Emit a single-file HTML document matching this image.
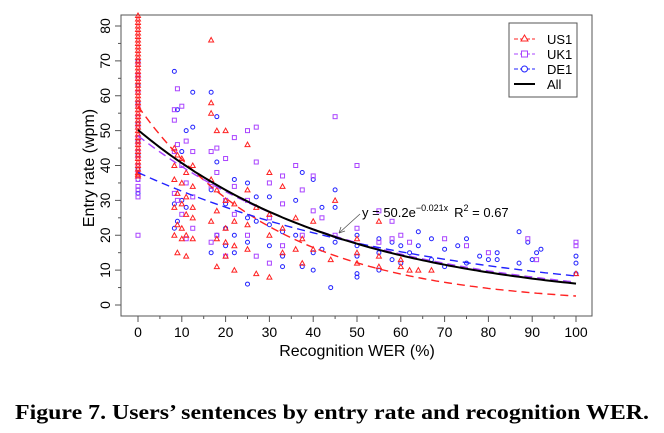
<!DOCTYPE html>
<html><head><meta charset="utf-8"><style>
html,body{margin:0;padding:0;background:#fff;width:664px;height:433px;overflow:hidden}
svg{display:block}
</style></head><body>
<svg id="chart" width="664" height="433" xmlns="http://www.w3.org/2000/svg" font-family="Liberation Sans, Arial, sans-serif">
<rect x="121" y="15" width="471" height="301" fill="none" stroke="#555" stroke-width="1"/>
<g id="axes"></g>
<g id="marks"></g>
<g id="fits"></g>
<text transform="translate(94,168) rotate(-90)" text-anchor="middle" font-size="16">Entry rate (wpm)</text>
<text x="357" y="356" text-anchor="middle" font-size="16">Recognition WER (%)</text>
<g>
<line x1="360" y1="214" x2="339" y2="233" stroke="#555" stroke-width="0.8"/>
<path d="M339,233 l2,-6 M339,233 l6,-2" stroke="#555" stroke-width="0.8" fill="none"/>
<text x="362" y="217" font-size="13">y = 50.2e<tspan dy="-6" font-size="9">−0.021x</tspan><tspan dy="6" dx="6">R</tspan><tspan dy="-6" font-size="9">2</tspan><tspan dy="6"> = 0.67</tspan></text>
</g>
<g>
<rect x="509" y="23" width="68" height="74" fill="#fff" stroke="#555" stroke-width="1"/>
<g><line x1="514" y1="39" x2="535" y2="39" stroke="#f22" stroke-dasharray="4,2"/><path d="M524.5,35 l3.5,6 h-7z" fill="#fff" stroke="#f22"/><text x="547" y="44" font-size="13">US1</text></g>
<g><line x1="514" y1="54" x2="535" y2="54" stroke="#a4f" stroke-dasharray="4,2"/><rect x="521.5" y="51" width="6" height="6" fill="#fff" stroke="#a4f"/><text x="547" y="59" font-size="13">UK1</text></g>
<g><line x1="514" y1="69" x2="535" y2="69" stroke="#22f" stroke-dasharray="4,2"/><circle cx="524.5" cy="69" r="3" fill="#fff" stroke="#22f"/><text x="547" y="74" font-size="13">DE1</text></g>
<g><line x1="514" y1="84" x2="535" y2="84" stroke="#000" stroke-width="2"/><text x="547" y="89" font-size="13">All</text></g>
</g>
<text x="332" y="419" text-anchor="middle" font-family="Liberation Serif, Times New Roman, serif" font-weight="bold" font-size="21" textLength="634" lengthAdjust="spacingAndGlyphs">Figure 7. Users’ sentences by entry rate and recognition WER.</text>
</svg>
<script>
const xTicks=[0,10,20,30,40,50,60,70,80,90,100];
const yTicks=[0,10,20,30,40,50,60,70,80];
const us1X=[0,0,0,0,0,0,0,0,0,0,0,0,0,0,0,0,0,0,0,0,0,0,0,0,0,0,0,0,0,0,0,0,0,0,0,0,0,0,0,0,0,0,0,0,0,0,0,0,8.3,8.3,8.3,8.3,8.3,9,9,9,9,10,10,10,10,10,11,11,11,11,11,12.5,12.5,12.5,12.5,12.5,16.7,16.7,16.7,16.7,16.7,18,18,18,18,18,20,20,20,20,20,22,22,22,22,25,25,25,25,27,27,30,30,30,30,33,33,33,36,36,37.5,37.5,40,40,44,45,50,50,50,55,55,55,60,60,62,64,67,100];
const us1Y=[83,82,81,80,79,78,77,76,75,74,73,72,71,70,69,68,67,66,65,64,63,62,61,60,59,58,57,56,55,54,53,52,51,50,49,48,47,46,45,44,43,42,41,40,39,38,37.5,37,45,40,36,28,20,43,32,23,15,42,35,29,22,19,38,31,26,20,14,40,34,28,25,19,76,58,55,36,24,50,33,27,19,11,50,30,22,18,14,29,24,17,10,46,33,23,16,9,28,38,26,20,8,34,22,15,25,16,19,12,24,16,13,30,19,15,12,11,24,14,13,11,10,10,10,9];
const uk1X=[0,0,0,0,0,0,0,0,0,0,0,0,0,0,0,0,0,0,8.3,8.3,8.3,8.3,9,9,9,10,10,10,11,11,11,12.5,12.5,12.5,16.7,16.7,16.7,18,18,18,20,20,20,22,22,22,25,25,25,27,27,27,30,30,30,33,33,33,36,37.5,37.5,40,40,42,45,45,50,50,55,55,58,58,60,62,70,75,80,89,91,100,100];
const uk1Y=[69,65,61,57,54,51,48,46,44,42,40,38,36,34,33,31,20,66,56,53,44,32,62,46,30,57,40,26,47,35,19,44,31,22,44,34,18,45,38,20,42,30,14,48,34,26,50,30,20,51,41,14,35,25,12,37,29,17,40,33,20,37,27,25,54,20,40,22,27,18,24,19,20,18,19,17,15,19,13,18,17];
const de1X=[0,0,0,0,0,0,0,0,0,0,8.3,8.3,8.3,9,9,10,10,11,11,12.5,12.5,16.7,16.7,16.7,18,18,18,20,20,20,22,22,22,25,25,25,25,27,27,30,30,30,33,33,33,36,36,37.5,37.5,40,40,40,42,42,44,45,45,45,50,50,50,50,50,55,55,55,58,58,60,60,62,64,64,67,67,70,70,73,75,75,78,80,82,82,87,87,89,90,91,92,100,100,100];
const de1Y=[70,63,58,52,47,43,39,36,33,32,67,29,22,56,24,44,30,50,28,61,51,61,33,15,54,41,20,29,22,17,36,20,15,35,25,18,6,31,24,31,23,17,21,14,11,30,20,38,11,36,15,10,28,16,5,33,28,18,20,17,14,9,8,19,15,10,18,13,17,12,15,21,17,19,13,16,11,17,19,12,14,13,15,13,21,12,18,13,15,16,14,12,9];
const fitA=[57,48.5,38,50.2];
const fitB=[0.031,0.02,0.0152,0.021];
const fitColor=['#f22','#a4f','#22f','#000'];
const fitNames=['fit-us1','fit-uk1','fit-de1','fit-all'];

const X0=138,X1=576,Y0=305,Y1=26;
const sx=v=>X0+(X1-X0)*v/100;
const sy=v=>Y0-(Y0-Y1)*v/80;
const NS='http://www.w3.org/2000/svg';
function mk(tag,attrs,parent){const e=document.createElementNS(NS,tag);for(const k in attrs)e.setAttribute(k,attrs[k]);parent.appendChild(e);return e;}
const axes=document.getElementById('axes');
for(let v=0;v<=100;v+=5){const t=mk('line',{x1:sx(v),x2:sx(v),y1:316,y2:v%10?319:322,stroke:'#555'},axes);

}
xTicks.forEach(v=>{const t=mk('text',{x:sx(v),y:337,'text-anchor':'middle','font-size':'14'},axes);t.textContent=v;

});
for(let v=0;v<=80;v+=5){const t=mk('line',{y1:sy(v),y2:sy(v),x1:121,x2:v%10?118:115,stroke:'#555'},axes);

}
yTicks.forEach(v=>{const t=mk('text',{transform:`translate(110,${sy(v)}) rotate(-90)`,'text-anchor':'middle','font-size':'14'},axes);t.textContent=v;

});
const marks=document.getElementById('marks');
de1X.forEach((x,i)=>{const c=mk('circle',{cx:sx(x),cy:sy(de1Y[i]),r:2,fill:'none',stroke:'#22f','stroke-width':1},marks);

});
uk1X.forEach((x,i)=>{const c=mk('rect',{x:sx(x)-2,y:sy(uk1Y[i])-2,width:4,height:4,fill:'none',stroke:'#a4f','stroke-width':1},marks);

});
us1X.forEach((x,i)=>{const px=sx(x),py=sy(us1Y[i]);const c=mk('path',{d:`M${px},${py-2.5} l2.5,4.5 h-5z`,fill:'none',stroke:'#f22','stroke-width':1},marks);

});
const fits=document.getElementById('fits');
fitA.forEach((a,i)=>{let d='';for(let x=0;x<=100;x+=1){d+=(x?'L':'M')+sx(x).toFixed(1)+','+sy(a*Math.exp(-fitB[i]*x)).toFixed(1);}
const p=mk('path',{d:d,fill:'none',stroke:fitColor[i],'stroke-width':i==3?2:1.4,'stroke-dasharray':i==3?'none':'8,5'},fits);

});
</script>
</body></html>
